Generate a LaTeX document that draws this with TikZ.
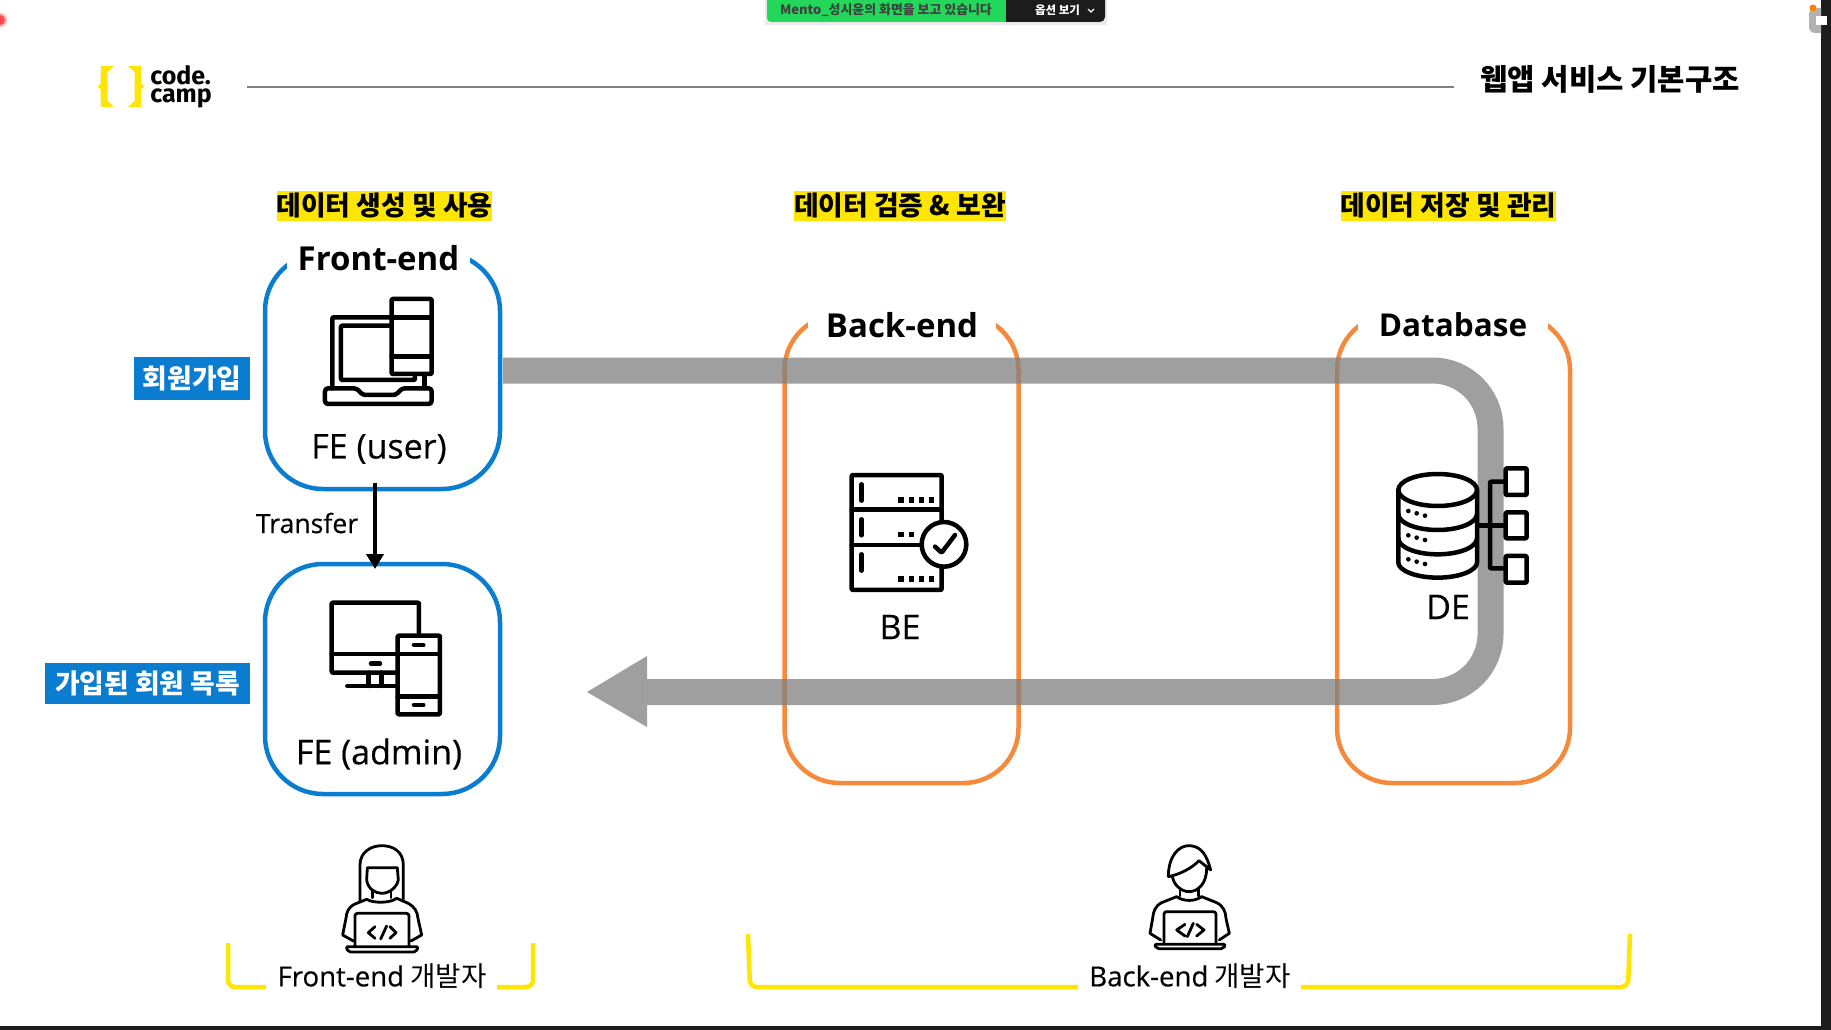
\documentclass[tikz,border=0pt]{standalone}
\usepackage{fontspec}
\setmainfont{Noto Sans CJK KR}
\newfontfamily\latinf{Open Sans}
\newfontfamily\latinm[FakeBold=0.35]{Open Sans}
\newfontfamily\logof{Fira Sans}
\usetikzlibrary{arrows.meta}
\definecolor{ccblue}{HTML}{0A7DD1}
\definecolor{ccorange}{HTML}{F58A3D}
\definecolor{ccyellow}{HTML}{FFE600}
\definecolor{ccdark}{HTML}{1C1C1C}
\definecolor{ccgreen}{HTML}{22D75A}
\newcommand{\fs}[1]{\fontsize{#1}{#1}\selectfont}
\tikzset{
  febox/.style={draw=ccblue,line width=4.5pt,rounded corners=58pt,minimum width=235pt,inner sep=0pt,outer sep=0pt},
  bebox/.style={draw=ccorange,line width=4.5pt,rounded corners=55pt,minimum width=233pt,minimum height=468pt,inner sep=0pt,outer sep=0pt},
  gaplabel/.style={fill=white,inner sep=0pt,minimum height=32pt,font=\latinf\bfseries\fs{33}},
  hilite/.style={fill=ccyellow,inner sep=0pt,minimum width=214pt,minimum height=30pt,font=\bfseries\fs{26.8}},
  tag/.style={fill=ccblue,text=white,inner sep=0pt,font=\bfseries\fs{26.8}},
  iconlabel/.style={inner sep=0pt,font=\latinm\fs{34}},
  devlabel/.style={inner sep=0pt,fill=white,font=\fs{27.6}},
  icon/.style={draw=black,line width=4.5pt,line join=round,line cap=round,rounded corners=1pt},
  thinicon/.style={draw=black,line width=2.8pt,line join=round,line cap=round},
  pill/.style={draw=black,line width=4.5pt,line cap=round},
  bracket/.style={draw=ccyellow,line width=4.5pt,rounded corners=7pt},
  flow/.style={draw=black!50,opacity=.75,line width=26pt,rounded corners=58pt},
  flowhead/.style={fill=black!50,opacity=.75},
  xferarrow/.style={draw=black,line width=4.5pt,-{Triangle[length=15pt,width=17pt]}},
}
\begin{document}
\begin{tikzpicture}[x=1pt,y=-1pt]
\useasboundingbox (0,0) rectangle (1831,1030);
\fill[white] (0,0) rectangle (1831,1030);

% window chrome
\fill[black,opacity=.08] (765,0) -- (765,25) -- (1107,25) -- (1107,0) -- cycle;
\fill[ccgreen] (767,0) -- (767,18) arc[start angle=180,end angle=90,radius=4] -- (1006,22) -- (1006,0) -- cycle;
\fill[ccdark] (1006,0) -- (1006,22) -- (1100,22) arc[start angle=90,end angle=0,radius=5] -- (1105,0) -- cycle;
\node[inner sep=0pt,text=black!75,font=\bfseries\fs{12.9}] (sharetext) at (886,10) {Mento\_성시윤의 화면을 보고 있습니다};
\node[inner sep=0pt,text=white,font=\bfseries\fs{11.5}] (optiontext) at (1057.5,10) {옵션 보기};
\draw[white,line width=1.1pt] (1088,9) -- (1091,12) -- (1094,9);
\fill[ccdark] (1821,0) rectangle (1831,1030);
\fill[ccdark] (0,1026) rectangle (1831,1030);
\fill[black!30] (1821,8) -- (1815,8) arc[start angle=270,end angle=180,radius=6] -- (1809,27) arc[start angle=180,end angle=90,radius=6] -- (1821,33) -- cycle;
\fill[white] (1816,16) rectangle (1827,25);
\fill[orange] (1813,8) circle[radius=3.5];
\fill[red!30!white] (0,20) circle[radius=7];
\fill[red!70!white] (0,20) circle[radius=5];

% header
\fill[ccyellow] (101,66) -- (114,66) -- (107.5,72) -- (107.5,101) -- (114,107) -- (101,107) -- (100.5,89) -- (97.5,86.5) -- (100.5,84) -- cycle;
\fill[ccyellow] (141,66) -- (128,66) -- (134.5,72) -- (134.5,101) -- (128,107) -- (141,107) -- (141.5,89) -- (144.5,86.5) -- (141.5,84) -- cycle;
\node[inner sep=0pt,align=left,anchor=center,font=\logof\bfseries\fontsize{25}{18}\selectfont] (logo) at (181,87) {code.\\camp};
\coordinate (rulea) at (247,87);
\coordinate (ruleb) at (1454,87);
\draw[black!50,line width=2pt] (rulea) -- (ruleb);
\node[inner sep=0pt,font=\bfseries\fs{29.7}] (title) at (1610,79) {웹앱 서비스 기본구조};

% boxes
\node[febox,minimum height=236pt] (feuser) at (382.5,371) {};
\node[febox,minimum height=230pt] (feadmin) at (382.5,679) {};
\node[bebox,minimum width=234pt] (be) at (901.5,549) {};
\node[bebox] (db) at (1453.5,549) {};
\node[gaplabel,minimum width=183pt] (felabel) at (378.5,258) {Front-end};
\node[gaplabel,minimum width=188pt] (belabel) at (902,325) {Back-end};
\node[gaplabel,minimum width=190pt,font=\latinf\bfseries\fs{31.5}] (dblabel) at (1453,325) {Database};

\node[hilite] (h1) at (384.5,206) {\raisebox{3pt}{데이터 생성 및 사용}};
\node[hilite,minimum width=210pt] (h2) at (900,206) {\raisebox{3pt}{데이터 검증 \& 보완}};
\node[hilite] (h3) at (1448.5,206) {\raisebox{3pt}{데이터 저장 및 관리}};

\node[tag,minimum width=116pt,minimum height=43pt] (t1) at (192,378.5) {\raisebox{2pt}{회원가입}};
\node[tag,minimum width=205pt,minimum height=41pt] (t2) at (147.5,683.5) {\raisebox{3pt}{가입된 회원 목록}};

% flow arrow
\coordinate (flowstart) at (503,370.5);
\coordinate (flowtr) at (1490.5,370.5);
\coordinate (flowbr) at (1490.5,692);
\coordinate (flowend) at (647,692);
\coordinate (flowtip) at (587,692);
\coordinate (flowup) at (647,656);
\coordinate (flowdn) at (647,727);
\draw[flow] (flowstart) -- (flowtr) -- (flowbr) -- (flowend);
\fill[flowhead] (flowtip) -- (flowup) -- (flowdn) -- cycle;

% transfer arrow
\coordinate (xa) at (375,483);
\coordinate (xb) at (375,569);
\draw[xferarrow] (xa) -- (xb);
\node[inner sep=0pt,font=\latinm\fs{26.6}] (xferlabel) at (307,523) {Transfer};

% laptop + phone
\begin{scope}[shift={(240,240)},x=.3333pt,y=-.3333pt]
\draw[icon] (455,232) -- (277,232) -- (277,445);
\draw[icon] (455,257) -- (303,257) -- (303,420) -- (525,420) -- (525,405);
\draw[icon] (553,405) -- (553,445);
\draw[icon,rounded corners=3pt] (255,445) -- (350,445) -- (368,465) -- (468,465) -- (486,445) -- (575,445) -- (575,492) -- (255,492) -- cycle;
\draw[icon] (455,177) rectangle (575,402);
\draw[icon] (455,232) -- (575,232);
\draw[icon] (455,350) -- (575,350);
\end{scope}
\node[iconlabel] (feu) at (379,449) {FE (user)};

% monitor + phone
\begin{scope}[shift={(240,550)},x=.3333pt,y=-.3333pt]
\draw[icon] (537,250) -- (537,158) -- (275,158) -- (275,368) -- (470,368);
\draw[icon] (275,312) -- (470,312);
\draw[pill] (393,341) -- (420,341);
\draw[icon] (385,368) -- (385,408);
\draw[icon] (425,368) -- (425,408);
\draw[icon] (322,408) -- (470,408);
\draw[icon] (473,257) rectangle (600,493);
\draw[icon] (473,312) -- (600,312);
\draw[icon] (473,440) -- (600,440);
\draw[pill] (522,285) -- (550,285);
\draw[pill] (522,465) -- (550,465);
\end{scope}
\node[iconlabel] (fea) at (379,754) {FE (admin)};

% server
\begin{scope}[shift={(820,450)},x=.3333pt,y=-.3333pt]
\draw[icon] (365,215) -- (365,75) -- (95,75) -- (95,420) -- (365,420) -- (365,355);
\draw[icon] (95,178) -- (365,178);
\draw[icon] (95,285) -- (305,285);
\draw[pill] (125,103) -- (125,152);
\draw[pill] (125,208) -- (125,256);
\draw[pill] (125,313) -- (125,362);
\foreach \y/\xs in {150/{243,275,305,335},253/{243,275},387/{243,275,305,335}}
  \foreach \x in \xs \fill (\x-8,\y-8) rectangle (\x+8,\y+8);
\draw[icon] (372,283) circle[radius=67];
\draw[icon] (345,290) -- (365,308) -- (405,255);
\end{scope}
\node[iconlabel] (belbl) at (900,627) {BE};

% database
\begin{scope}[shift={(1370,440)},x=.3333pt,y=-.3333pt]
\fill[white] (85,150) rectangle (321,365);
\draw[icon] (203,150) ellipse[x radius=118,y radius=48];
\draw[icon] (85,150) -- (85,365) arc[start angle=180,end angle=0,x radius=118,y radius=48] -- (321,150);
\draw[icon] (85,222) arc[start angle=180,end angle=0,x radius=118,y radius=48];
\draw[icon] (85,295) arc[start angle=180,end angle=0,x radius=118,y radius=48];
\foreach \y in {0,73,145} {
  \fill (115,213+\y) circle[radius=7];
  \fill (140,220+\y) circle[radius=7];
  \fill (165,227+\y) circle[radius=7];
}
\draw[icon] (321,257) -- (407,257);
\draw[icon] (407,125) -- (360,125) -- (360,385) -- (407,385);
\draw[icon] (407,85) rectangle (470,165);
\draw[icon] (407,217) rectangle (470,295);
\draw[icon] (407,348) rectangle (470,428);
\end{scope}
\node[iconlabel] (delbl) at (1448,607) {DE};

% brackets
\coordinate (b1a) at (228,943); \coordinate (b1b) at (228,987); \coordinate (b1c) at (266,987);
\draw[bracket] (b1a) -- (b1b) -- (b1c);
\coordinate (b2a) at (533,943); \coordinate (b2b) at (533,987); \coordinate (b2c) at (497,987);
\draw[bracket] (b2a) -- (b2b) -- (b2c);
\coordinate (b3a) at (748,934); \coordinate (b3b) at (750,987); \coordinate (b3c) at (1078,987);
\draw[bracket] (b3a) -- (b3b) -- (b3c);
\coordinate (b4a) at (1630,934); \coordinate (b4b) at (1628,987); \coordinate (b4c) at (1301,987);
\draw[bracket] (b4a) -- (b4b) -- (b4c);
\node[devlabel] (fedev) at (382,976) {{\latinm Front-end} 개발자};
\node[devlabel] (bedev) at (1190,976) {{\latinm Back-end} 개발자};

% female developer
\begin{scope}[shift={(210,830)},x=.3333pt,y=-.3333pt]
\draw[thinicon] (450,212) -- (450,105) .. controls (450,65) and (485,47) .. (515,47) .. controls (550,47) and (580,65) .. (580,105) -- (580,208);
\draw[thinicon] (472,113) -- (562,113) -- (565,150) .. controls (560,175) and (535,190) .. (515,190) .. controls (495,190) and (473,175) .. (470,150) -- cycle;
\draw[thinicon] (487,182) -- (487,203);
\draw[thinicon] (543,182) -- (543,203);
\draw[thinicon] (470,208) .. controls (490,220) and (540,220) .. (560,205);
\draw[thinicon] (470,208) -- (435,222) .. controls (415,232) and (410,245) .. (408,265) -- (398,315) -- (430,333);
\draw[thinicon] (560,205) -- (595,220) .. controls (615,232) and (622,245) .. (624,265) -- (635,315) -- (603,333);
\draw[thinicon,rounded corners=2.5pt] (435,348) -- (435,250) -- (597,250) -- (597,348);
\draw[thinicon,rounded corners=2pt] (408,350) -- (625,350) -- (618,366) -- (415,366) -- cycle;
\draw[thinicon] (495,290) -- (475,308) -- (495,325);
\draw[thinicon] (512,327) -- (530,288);
\draw[thinicon] (540,290) -- (558,308) -- (540,325);
\end{scope}

% male developer
\begin{scope}[shift={(1060,830)},x=.3333pt,y=-.3333pt]
\draw[thinicon] (325,140) .. controls (325,80) and (355,45) .. (390,47) .. controls (425,50) and (440,75) .. (452,120) -- (417,92) .. controls (395,115) and (360,133) .. (325,140);
\draw[thinicon] (337,138) .. controls (340,165) and (365,185) .. (387,185) .. controls (415,185) and (440,160) .. (440,115);
\draw[thinicon] (360,175) -- (360,198);
\draw[thinicon] (415,175) -- (415,198);
\draw[thinicon] (350,200) .. controls (370,215) and (405,215) .. (425,200);
\draw[thinicon] (350,200) -- (305,218) .. controls (285,228) and (280,245) .. (278,265) -- (270,310) -- (302,330);
\draw[thinicon] (425,200) -- (470,218) .. controls (490,228) and (497,245) .. (498,265) -- (508,310) -- (478,330);
\draw[thinicon,rounded corners=2.5pt] (312,342) -- (312,245) -- (468,245) -- (468,342);
\draw[thinicon,rounded corners=2pt] (283,343) -- (497,343) -- (490,356) -- (290,356) -- cycle;
\draw[thinicon] (375,283) -- (350,300) -- (375,318);
\draw[thinicon] (382,320) -- (400,280);
\draw[thinicon] (410,283) -- (432,300) -- (410,318);
\end{scope}
\end{tikzpicture}
\end{document}
